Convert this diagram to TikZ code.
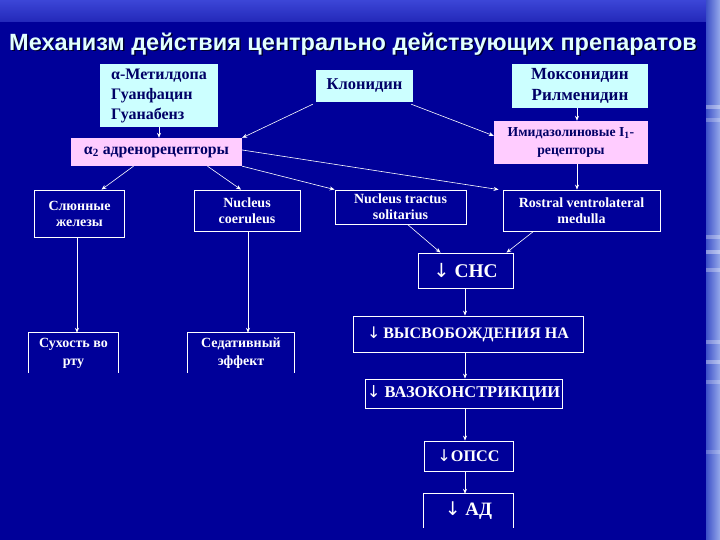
\documentclass[tikz,border=0pt]{standalone}
\usepackage{fontspec}
\setmainfont{Liberation Serif}
\newfontfamily\titlefont{Liberation Sans}
\newfontfamily\arrowfont{DejaVu Sans}
\newcommand{\dnarrow}{{\arrowfont\mdseries ↓}}
\usetikzlibrary{arrows.meta,calc}

\definecolor{bgblue}{RGB}{0,0,153}
\definecolor{boxcyan}{RGB}{204,255,255}
\definecolor{boxpink}{RGB}{255,204,255}
\definecolor{navytext}{RGB}{0,0,102}
\definecolor{titlecol}{RGB}{225,255,255}
\definecolor{bandtop}{RGB}{60,70,215}
\definecolor{bandbot}{RGB}{35,40,185}
\definecolor{stripl}{RGB}{60,80,200}
\definecolor{stripr}{RGB}{150,170,235}

\begin{document}
\begin{tikzpicture}[x=1pt,y=-1pt,
  every node/.style={inner sep=0pt},
  cyanbox/.style={fill=boxcyan, text=navytext, align=center, font=\bfseries\fontsize{16.5}{20}\selectfont},
  pinkbox/.style={fill=boxpink, text=navytext, align=center, font=\bfseries\fontsize{15.8}{18}\selectfont},
  wbox/.style={draw=white, line width=0.8pt, text=white, align=center, font=\bfseries\fontsize{14}{16}\selectfont},
  obox/.style={text=white, align=center, font=\bfseries\fontsize{14}{18}\selectfont},
  dbox/.style={draw=white, line width=0.8pt, text=white, align=center, font=\bfseries\fontsize{16}{18}\selectfont},
  openedge/.style={draw=white, line width=0.8pt},
  arr/.style={draw=white, line width=0.6pt, -{Stealth[length=5pt,width=4pt]}},
  titlestyle/.style={font=\titlefont\bfseries\fontsize{23.5}{26}\selectfont},
]
\useasboundingbox (0,0) rectangle (720,540);
% background
\shade[top color=bandtop, bottom color=bandbot] (0,0) rectangle (720,22);
\shade[left color=stripl, right color=stripr] (706,0) rectangle (720,540);
\foreach \yy/\op in {105/0.35,118/0.25,235/0.3,250/0.4,268/0.3,340/0.3,360/0.35,380/0.25,450/0.2}
  \fill[white, opacity=\op] (706,\yy) rectangle (720,\yy+4);
\fill[bgblue] (0,22) rectangle (706,540);

% title
\node[titlestyle, text=black, opacity=0.7] (titleshadow) at (354.5,45.5) {Механизм действия центрально действующих препаратов};
\node[titlestyle, text=titlecol] (title) at (353,44) {Механизм действия центрально действующих препаратов};

% top boxes
\node[cyanbox, align=left, minimum width=118, minimum height=63, font=\bfseries\fontsize{16}{20}\selectfont] (meth) at (159,95.5) {α-Метилдопа\\Гуанфацин\\Гуанабенз};
\node[cyanbox, minimum width=97, minimum height=32] (clon) at (364.5,86) {Клонидин};
\node[cyanbox, minimum width=136, minimum height=44, font=\bfseries\fontsize{17}{21}\selectfont] (mox) at (580,86) {Моксонидин\\Рилменидин};

\node[pinkbox, minimum width=171, minimum height=28] (alpha) at (156.5,152) {α\textsubscript{2} адренорецепторы};
\node[pinkbox, minimum width=154, minimum height=43, font=\bfseries\fontsize{13.7}{18}\selectfont] (imid) at (571,142.5) {Имидазолиновые I\textsubscript{1}-\\рецепторы};

% middle row
\node[wbox, minimum width=90, minimum height=47] (saliv) at (79.5,213.5) {Слюнные\\железы};
\node[wbox, minimum width=106, minimum height=41] (coer) at (247,210.5) {Nucleus\\coeruleus};
\node[wbox, minimum width=131, minimum height=34] (nts) at (400.5,207) {Nucleus tractus\\solitarius};
\node[wbox, minimum width=157, minimum height=41] (rvlm) at (581.5,210.5) {Rostral ventrolateral\\medulla};

% effect boxes (open at the bottom)
\node[obox, minimum width=89, minimum height=40] (dry) at (73.5,353) {Сухость во\\рту};
\node[obox, minimum width=106, minimum height=40] (sed) at (241,353) {Седативный\\эффект};
\draw[openedge] (dry.south west) -- (dry.north west) -- (dry.north east) -- (dry.south east);
\draw[openedge] (sed.south west) -- (sed.north west) -- (sed.north east) -- (sed.south east);

% chain
\node[dbox, minimum width=95, minimum height=35, font=\bfseries\fontsize{19.4}{20}\selectfont] (cns) at (465.5,270.5) {\dnarrow\ СНС};
\node[dbox, minimum width=230, minimum height=36] (ne) at (468,334) {\dnarrow\,ВЫСВОБОЖДЕНИЯ НА};
\node[dbox, minimum width=197, minimum height=29, font=\bfseries\fontsize{16.4}{18}\selectfont] (vaso) at (463.5,393.5) {\dnarrow\ ВАЗОКОНСТРИКЦИИ};
\node[dbox, minimum width=89, minimum height=30, font=\bfseries\fontsize{16.2}{18}\selectfont] (opss) at (468.5,456) {\dnarrow ОПСС};
\node[obox, minimum width=89, minimum height=34, font=\bfseries\fontsize{18.9}{20}\selectfont] (ad) at (468.5,511) {\dnarrow\ АД};
\draw[openedge] (ad.south west) -- (ad.north west) -- (ad.north east) -- (ad.south east);

% helper coordinates
\coordinate (vx) at (465,0);
\coordinate (sx) at (77,0);
\coordinate (cx) at (248,0);
\coordinate (mx) at (577,0);
\coordinate (imidin) at ($(imid.north west)+(0,15)$);
\coordinate (alphaout) at ($(alpha.east)+(0,-2)$);

% connectors
\draw[arr] (meth.south) -- (meth.south |- alpha.north);
\draw[arr] ($(clon.south west)+(-3,2)$) -- (alpha.north east);
\draw[arr] ($(clon.south east)+(-2,2)$) -- (imidin);
\draw[arr] (mx |- mox.south) -- (mx |- imid.north);
\draw[arr] ($(alpha.south)+(-23,0)$) -- ($(saliv.north)+(22,0)$);
\draw[arr] ($(alpha.south)+(51,0)$) -- ($(coer.north)+(-6,0)$);
\draw[arr] (alpha.south east) -- (nts.north west);
\draw[arr] (alphaout) -- ($(rvlm.north west)+(-4,0)$);
\draw[arr] (mx |- imid.south) -- (mx |- rvlm.north);
\draw[arr] ($(nts.south)+(7,0)$) -- ($(cns.north)+(-25,0)$);
\draw[arr] ($(rvlm.south)+(-48,0)$) -- ($(cns.north)+(41,0)$);
\draw[arr] (vx |- cns.south) -- (vx |- ne.north);
\draw[arr] (vx |- ne.south) -- (vx |- vaso.north);
\draw[arr] (vx |- vaso.south) -- (vx |- opss.north);
\draw[arr] (vx |- opss.south) -- (vx |- ad.north);
\draw[arr] (sx |- saliv.south) -- (sx |- dry.north);
\draw[arr] (cx |- coer.south) -- (cx |- sed.north);
\end{tikzpicture}
\end{document}
